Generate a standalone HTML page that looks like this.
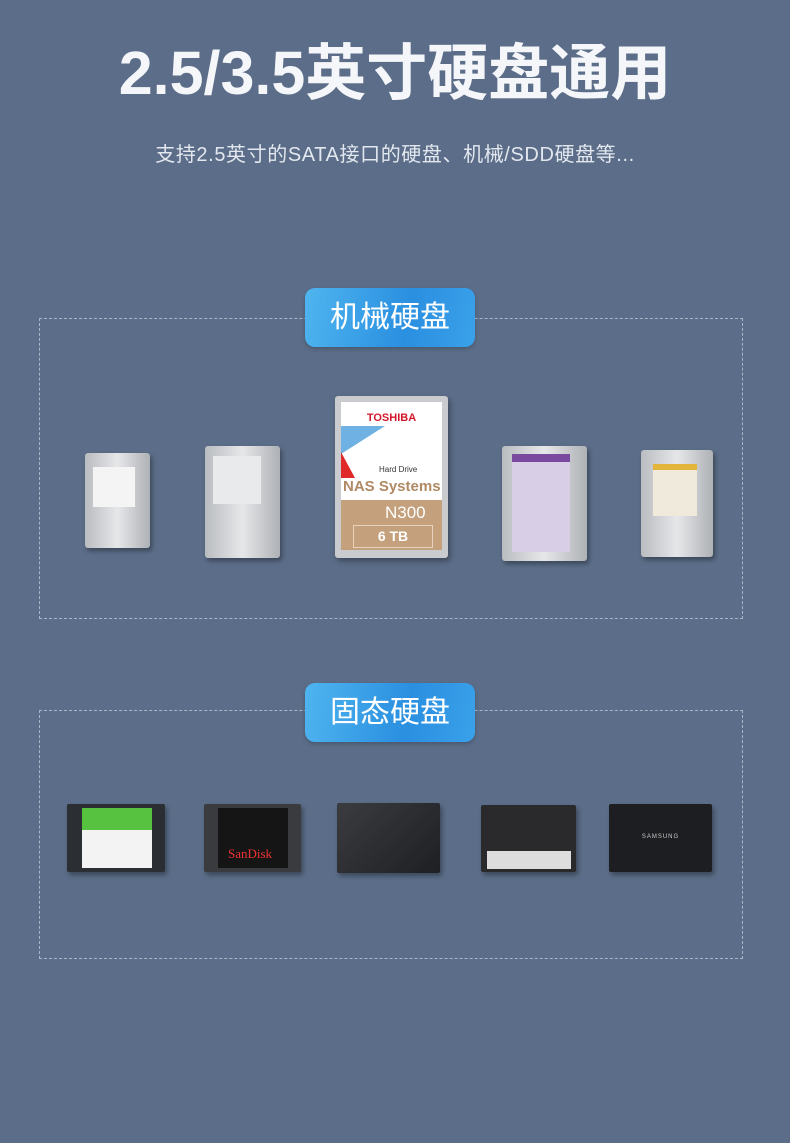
<!DOCTYPE html>
<html><head><meta charset="utf-8"><style>
body{margin:0;width:790px;height:1143px;background:#5b6d88;position:relative;overflow:hidden;font-family:"Liberation Sans","Noto Sans CJK SC",sans-serif}
.a{position:absolute}
.t{left:0;width:790px;text-align:center;color:#fff}
.box{border:1px dashed #a9b5c8}
.pill{width:170px;height:59px;border-radius:10px;background:linear-gradient(100deg,#4fb5ef,#2a8fe0 60%,#3aa1ea);color:#fff;font-size:30px;line-height:59px;text-align:center;box-shadow:0 2px 4px rgba(0,0,0,.2)}
.hdd{background:linear-gradient(90deg,#b9bcc0,#e6e7e9 50%,#aeb1b5);border-radius:3px;box-shadow:2px 3px 5px rgba(0,0,0,.35)}
.lbl{position:absolute;background:#f4f4f4}
.ssd{border-radius:2px;box-shadow:2px 3px 5px rgba(0,0,0,.35)}
</style></head><body>
<div class="a t" style="top:36px;font-size:61px;font-weight:bold;line-height:74px;color:#f4f6f9">2.5/3.5英寸硬盘通用</div>
<div class="a t" style="top:142px;font-size:20px;color:#e3e8ef;line-height:26px;letter-spacing:0.6px">支持2.5英寸的SATA接口的硬盘、机械/SDD硬盘等...</div>

<div class="a box" style="left:39px;top:318px;width:702px;height:299px"></div>
<div class="a pill" style="left:305px;top:288px">机械硬盘</div>
<div class="a box" style="left:39px;top:710px;width:702px;height:247px"></div>
<div class="a pill" style="left:305px;top:683px">固态硬盘</div>

<div class="a hdd" style="left:85px;top:453px;width:65px;height:95px"><div class="lbl" style="left:8px;top:14px;width:42px;height:40px"></div></div>
<div class="a hdd" style="left:205px;top:446px;width:75px;height:112px"><div class="lbl" style="left:8px;top:10px;width:48px;height:48px;background:#e9eaeb"></div></div>
<div class="a" style="left:335px;top:396px;width:113px;height:162px;background:#c9cbcf;border-radius:3px;box-shadow:2px 3px 6px rgba(0,0,0,.35)">
 <div class="a" style="left:6px;top:6px;width:101px;height:98px;background:#fff;overflow:hidden">
  <div class="a" style="left:0;top:24px;width:0;height:0;border-left:44px solid #6eb1e2;border-bottom:28px solid transparent"></div>
  <div class="a" style="left:0;top:50px;width:0;height:0;border-left:14px solid #e02a2a;border-top:26px solid transparent"></div>
  <div class="a" style="left:0;top:10px;width:101px;text-align:center;color:#d2182a;font-weight:bold;font-size:11px">TOSHIBA</div>
  <div class="a" style="left:38px;top:63px;font-size:8px;color:#333">Hard Drive</div>
  <div class="a" style="left:2px;top:76px;font-size:15px;font-weight:bold;color:#b08a64">NAS Systems</div>
 </div>
 <div class="a" style="left:6px;top:104px;width:101px;height:50px;background:#c4a07c">
  <div class="a" style="left:44px;top:3px;font-size:17px;color:#fff">N300</div>
  <div class="a" style="left:12px;top:25px;width:78px;height:21px;border:1px solid #e6d2bd;color:#fff;font-weight:bold;font-size:14px;text-align:center;line-height:21px">6 TB</div>
 </div>
</div>
<div class="a hdd" style="left:502px;top:446px;width:85px;height:115px"><div class="lbl" style="left:10px;top:8px;width:58px;height:90px;background:#d8cfe6;border-top:8px solid #7a4aa0"></div></div>
<div class="a hdd" style="left:641px;top:450px;width:72px;height:107px"><div class="lbl" style="left:12px;top:14px;width:44px;height:46px;background:#efeadb;border-top:6px solid #e3b53a"></div></div>

<div class="a ssd" style="left:67px;top:804px;width:98px;height:68px;background:#2b2e33"><div class="a" style="left:15px;top:4px;width:70px;height:60px;background:#f3f3f3;border-top:22px solid #57c23f;box-sizing:border-box"></div></div>
<div class="a ssd" style="left:204px;top:804px;width:97px;height:68px;background:#3a3b3e"><div class="a" style="left:14px;top:4px;width:70px;height:60px;background:#151515"><div class="a" style="left:10px;top:38px;color:#e33;font-size:13px;font-family:'Liberation Serif',serif">SanDisk</div></div></div>
<div class="a ssd" style="left:337px;top:803px;width:103px;height:70px;background:linear-gradient(135deg,#3a3c40,#1e1f22)"></div>
<div class="a ssd" style="left:481px;top:805px;width:95px;height:67px;background:#2a2a2c"><div class="a" style="left:6px;top:46px;width:84px;height:18px;background:#ddd"></div></div>
<div class="a ssd" style="left:609px;top:804px;width:103px;height:68px;background:#1d1e21"><div class="a" style="left:0;top:30px;width:103px;text-align:center;color:#ccc;font-size:6px;letter-spacing:1px">SAMSUNG</div></div>
</body></html>
